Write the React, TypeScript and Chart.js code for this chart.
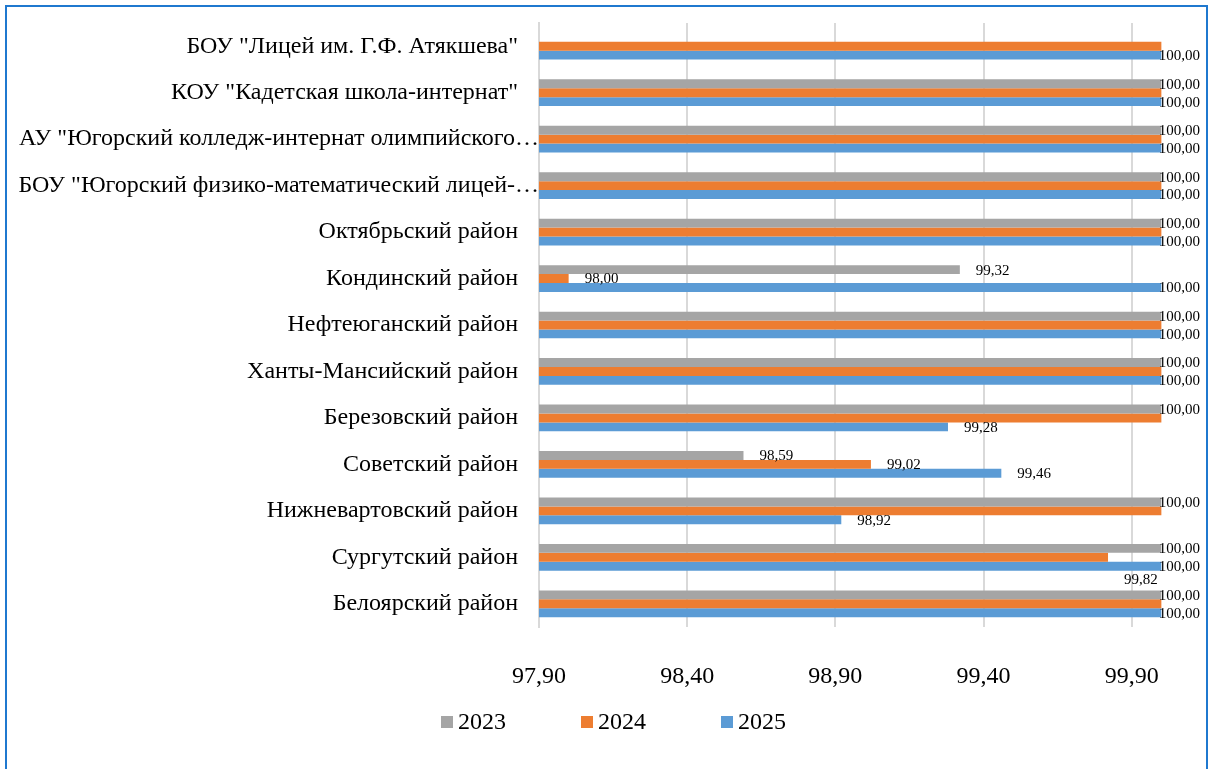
import React, { useEffect, useRef } from "react";
import { Chart, registerables } from "chart.js";

Chart.register(...registerables);

const categories = [
  'БОУ "Лицей им. Г.Ф. Атякшева"',
  'КОУ "Кадетская школа-интернат"',
  'АУ "Югорский колледж-интернат олимпийского резерва"',
  'БОУ "Югорский физико-математический лицей-интернат"',
  "Октябрьский район",
  "Кондинский район",
  "Нефтеюганский район",
  "Ханты-Мансийский район",
  "Березовский район",
  "Советский район",
  "Нижневартовский район",
  "Сургутский район",
  "Белоярский район",
];

const series2023: (number | null)[] = [null, 100, 100, 100, 100, 99.32, 100, 100, 100, 98.59, 100, 100, 100];
const series2024: (number | null)[] = [100, 100, 100, 100, 100, 98.0, 100, 100, 100, 99.02, 100, 99.82, 100];
const series2025: (number | null)[] = [100, 100, 100, 100, 100, 100, 100, 100, 99.28, 99.46, 98.92, 100, 100];

const seriesNames = ["2023", "2024", "2025"];
const seriesColors = ["#A5A5A5", "#ED7D31", "#5B9BD5"];
const xTickValues = [97.9, 98.4, 98.9, 99.4, 99.9];
const xMin = 97.9;
const xMax = 100.1;

const fmt = (v: number) => v.toFixed(2).replace(".", ",");
const SERIF = '"Liberation Serif", "Times New Roman", serif';

const yLabelPlugin = {
  id: "yLabels",
  afterDraw(chart: any) {
    const { ctx } = chart;
    const yScale = chart.scales.y;
    const left = chart.chartArea.left;
    ctx.save();
    ctx.font = `24px ${SERIF}`;
    ctx.fillStyle = "#000";
    ctx.textBaseline = "middle";
    ctx.textAlign = "right";
    (chart.data.labels as string[]).forEach((lab, i) => {
      const yy = yScale.getPixelForValue(i);
      const normalRight = left - 21;
      if (ctx.measureText(lab).width <= normalRight - 12) {
        ctx.fillText(lab, normalRight, yy);
      } else {
        const limit = left - 14;
        const pieces = lab.split(/(?<=[\s-])/);
        let acc = "";
        for (const p of pieces) {
          const cand = acc + p;
          if (ctx.measureText(cand.trimEnd() + "…").width > limit) break;
          acc = cand;
        }
        ctx.fillText(acc.trimEnd() + "…", left, yy);
      }
    });
    ctx.restore();
  },
};

const dataLabelPlugin = {
  id: "dataLabels",
  afterDatasetsDraw(chart: any) {
    const { ctx } = chart;
    const right = chart.width - 8;
    const all: number[] = [];
    chart.data.datasets.forEach((ds: any) => ds.data.forEach((v: any) => v != null && all.push(v)));
    const maxVal = Math.max(...all);
    ctx.save();
    ctx.font = `15px ${SERIF}`;
    ctx.fillStyle = "#000";
    ctx.textBaseline = "middle";
    ctx.textAlign = "left";
    const wMax = ctx.measureText(fmt(maxVal)).width;
    chart.data.datasets.forEach((ds: any, di: number) => {
      const meta = chart.getDatasetMeta(di);
      meta.data.forEach((bar: any, i: number) => {
        const v = ds.data[i];
        if (v == null) return;
        if (di === 1 && v >= maxVal) return;
        const text = fmt(v);
        const w = ctx.measureText(text).width;
        const x = Math.min(bar.x + 16, right - w);
        let yy = bar.y + 1;
        if (di === 1 && bar.x + 16 + w > right - wMax - 4) yy += 22;
        ctx.fillText(text, x, yy);
      });
    });
    ctx.restore();
  },
};

const legendPlugin = {
  id: "customLegend",
  afterDraw(chart: any) {
    const { ctx } = chart;
    const startX = chart.width / 2 - 163;
    const y = 722;
    ctx.save();
    ctx.font = `24px ${SERIF}`;
    ctx.textBaseline = "middle";
    ctx.textAlign = "left";
    chart.data.datasets.forEach((ds: any, i: number) => {
      const bx = startX + i * 140;
      ctx.fillStyle = ds.backgroundColor;
      ctx.fillRect(bx, y - 6, 12, 12);
      ctx.fillStyle = "#000";
      ctx.fillText(ds.label, bx + 17, y + 1);
    });
    ctx.restore();
  },
};

export default function App() {
  const ref = useRef<HTMLCanvasElement | null>(null);

  useEffect(() => {
    if (!ref.current) return;
    const seriesData = [series2023, series2024, series2025];
    const chart = new Chart(ref.current, {
      type: "bar",
      data: {
        labels: categories,
        datasets: seriesNames.map((name, i) => ({
          label: name,
          data: seriesData[i] as any,
          backgroundColor: seriesColors[i],
          borderWidth: 0,
          categoryPercentage: 0.575,
          barPercentage: 1,
        })),
      },
      options: {
        indexAxis: "y",
        responsive: false,
        animation: false,
        devicePixelRatio: 1,
        layout: { padding: { left: 0, top: 23, right: 17, bottom: 0 } },
        plugins: {
          legend: { display: false },
          tooltip: { enabled: false },
        },
        scales: {
          x: {
            type: "linear",
            min: xMin,
            max: xMax,
            afterBuildTicks: (axis: any) => {
              axis.ticks = xTickValues.map((v) => ({ value: v }));
            },
            afterFit: (scale: any) => {
              scale.height = 142;
            },
            grid: { color: "#D9D9D9", lineWidth: 2, drawTicks: false },
            border: { display: false },
            ticks: {
              padding: 35,
              color: "#000",
              font: { family: SERIF, size: 24 },
              callback: (v: any) => fmt(Number(v)),
            },
          },
          y: {
            type: "category",
            afterFit: (scale: any) => {
              scale.width = 539;
            },
            grid: { display: false },
            border: { display: true, color: "#D9D9D9", width: 2 },
            ticks: { display: false },
          },
        },
      } as any,
      plugins: [yLabelPlugin, dataLabelPlugin, legendPlugin],
    });
    return () => chart.destroy();
  }, []);

  return (
    <>
      <canvas
        ref={ref}
        width={1208}
        height={769}
        style={{ position: "fixed", left: 0, top: 0, width: 1208, height: 769 }}
      />
      <div
        style={{
          position: "fixed",
          left: 5,
          top: 5,
          width: 1203,
          height: 800,
          boxSizing: "border-box",
          border: "2px solid #1F78CF",
          pointerEvents: "none",
        }}
      />
    </>
  );
}
